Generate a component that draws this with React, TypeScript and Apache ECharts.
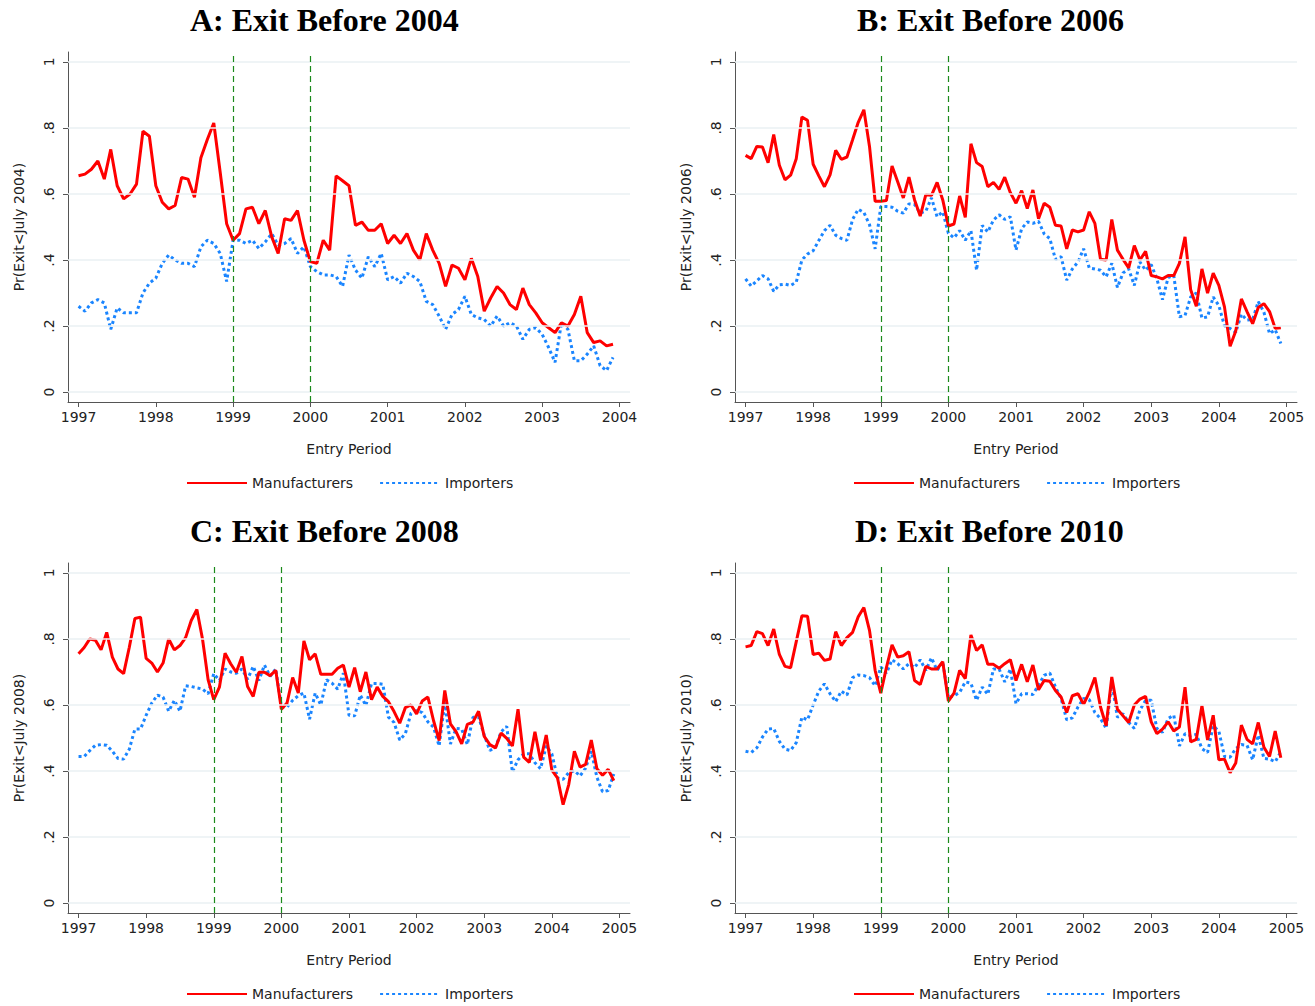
import { useEffect, useRef } from 'react';
import * as echarts from 'echarts';

// 每月数据，从 1997 年 1 月开始
const redA = [.655,.66,.675,.70,.645,.735,.625,.585,.60,.63,.79,.775,
  .625,.575,.555,.565,.65,.645,.59,.71,.765,.815,.665,.51,
  .46,.48,.555,.56,.51,.55,.47,.42,.525,.52,.55,.46,
  .395,.39,.46,.43,.655,.64,.625,.505,.515,.49,.49,.51,
  .45,.475,.45,.48,.43,.40,.48,.43,.39,.32,.385,.375,
  .34,.405,.35,.245,.285,.32,.30,.265,.25,.315,.265,.24,
  .21,.195,.18,.21,.20,.235,.29,.18,.15,.155,.14,.145];
const blueA = [.26,.245,.27,.28,.27,.19,.255,.24,.24,.24,.30,.33,
  .345,.39,.415,.40,.39,.39,.38,.44,.46,.45,.42,.335,
  .46,.46,.45,.46,.435,.455,.48,.445,.45,.465,.42,.44,
  .38,.365,.355,.355,.35,.32,.415,.37,.345,.41,.38,.42,
  .34,.35,.33,.36,.35,.335,.275,.265,.23,.19,.235,.25,
  .29,.235,.225,.22,.20,.23,.20,.21,.20,.16,.19,.195,
  .175,.135,.09,.21,.19,.095,.095,.115,.14,.08,.065,.105];
const redB = [.717,.707,.744,.742,.695,.78,.687,.643,.657,.707,.833,.823,
  .69,.655,.622,.658,.732,.705,.712,.764,.817,.855,.744,.578,
  .578,.58,.685,.637,.588,.651,.582,.533,.598,.596,.635,.582,
  .503,.509,.594,.529,.752,.695,.683,.622,.635,.614,.651,.604,
  .572,.61,.556,.612,.525,.572,.56,.505,.503,.434,.491,.485,
  .491,.546,.511,.402,.40,.523,.43,.402,.376,.444,.40,.426,
  .353,.349,.343,.353,.353,.39,.47,.31,.26,.373,.30,.36,
  .323,.258,.139,.185,.282,.244,.207,.256,.268,.244,.193,.195];
const blueB = [.343,.321,.337,.353,.343,.305,.325,.327,.323,.333,.40,.418,
  .428,.459,.489,.505,.475,.465,.46,.523,.554,.544,.507,.434,
  .562,.562,.56,.548,.542,.57,.568,.542,.548,.588,.531,.546,
  .481,.467,.489,.46,.489,.369,.505,.485,.521,.537,.523,.531,
  .43,.495,.515,.511,.517,.479,.465,.402,.41,.339,.373,.394,
  .434,.376,.373,.369,.349,.39,.317,.361,.373,.323,.394,.369,
  .386,.343,.28,.347,.353,.228,.232,.288,.30,.224,.228,.288,
  .262,.201,.193,.181,.236,.218,.22,.274,.242,.177,.189,.147];
const redC = [.755,.774,.80,.796,.767,.82,.745,.709,.695,.774,.862,.866,
  .741,.727,.70,.727,.80,.767,.78,.804,.856,.889,.80,.676,
  .616,.654,.757,.725,.699,.747,.656,.626,.699,.699,.689,.705,
  .587,.606,.683,.636,.794,.737,.755,.693,.693,.693,.711,.721,
  .654,.713,.64,.70,.616,.654,.626,.61,.58,.545,.592,.60,
  .573,.612,.624,.553,.492,.644,.543,.519,.482,.541,.548,.581,
  .505,.48,.47,.515,.499,.476,.587,.442,.426,.519,.432,.509,
  .403,.379,.298,.359,.46,.412,.42,.494,.407,.387,.405,.371];
const blueC = [.444,.444,.462,.478,.48,.478,.46,.438,.436,.466,.527,.527,
  .569,.606,.63,.624,.581,.614,.581,.658,.656,.652,.648,.634,
  .695,.674,.709,.70,.696,.709,.678,.717,.674,.721,.687,.709,
  .594,.594,.614,.628,.636,.557,.636,.60,.676,.666,.648,.696,
  .569,.567,.63,.598,.665,.665,.663,.563,.547,.494,.513,.575,
  .583,.577,.549,.533,.476,.608,.482,.529,.527,.48,.563,.563,
  .509,.462,.472,.519,.535,.397,.434,.452,.452,.425,.407,.476,
  .452,.379,.375,.395,.401,.385,.409,.46,.381,.337,.341,.391];
const redD = [.776,.78,.822,.816,.78,.83,.753,.717,.713,.792,.87,.869,
  .753,.757,.735,.739,.822,.78,.804,.82,.867,.895,.826,.705,
  .636,.713,.782,.745,.749,.761,.674,.662,.717,.709,.709,.731,
  .612,.636,.705,.68,.812,.765,.782,.723,.723,.711,.725,.737,
  .674,.723,.67,.721,.646,.674,.672,.644,.624,.577,.628,.634,
  .602,.638,.683,.594,.537,.685,.587,.567,.547,.60,.618,.626,
  .549,.513,.527,.549,.521,.533,.654,.488,.496,.598,.494,.569,
  .434,.436,.395,.424,.539,.496,.482,.547,.472,.444,.521,.44];
const blueD = [.46,.456,.47,.503,.527,.529,.49,.466,.462,.486,.563,.555,
  .60,.642,.664,.634,.61,.642,.63,.683,.691,.689,.683,.658,
  .715,.696,.737,.725,.709,.725,.713,.737,.705,.743,.705,.731,
  .622,.628,.638,.67,.666,.614,.654,.632,.709,.709,.67,.709,
  .604,.634,.634,.632,.66,.69,.697,.654,.62,.555,.561,.594,
  .62,.616,.577,.559,.529,.668,.563,.573,.547,.529,.585,.614,
  .614,.529,.517,.559,.569,.476,.513,.507,.511,.468,.456,.537,
  .521,.444,.442,.468,.48,.478,.434,.509,.438,.436,.428,.458];

const panels = [
  { title: 'A: Exit Before 2004', yName: 'Pr(Exit<July 2004)', red: redA, blue: blueA, years: [1997, 1998, 1999, 2000, 2001, 2002, 2003, 2004], left: 68, top: 52, titleLeft: 185 },
  { title: 'B: Exit Before 2006', yName: 'Pr(Exit<July 2006)', red: redB, blue: blueB, years: [1997, 1998, 1999, 2000, 2001, 2002, 2003, 2004, 2005], left: 735, top: 52, titleLeft: 852 },
  { title: 'C: Exit Before 2008', yName: 'Pr(Exit<July 2008)', red: redC, blue: blueC, years: [1997, 1998, 1999, 2000, 2001, 2002, 2003, 2004, 2005], left: 68, top: 563, titleLeft: 185 },
  { title: 'D: Exit Before 2010', yName: 'Pr(Exit<July 2010)', red: redD, blue: blueD, years: [1997, 1998, 1999, 2000, 2001, 2002, 2003, 2004, 2005], left: 735, top: 563, titleLeft: 850 },
];
const yTicks = [0, 0.2, 0.4, 0.6, 0.8, 1];
const cutYears = [1999, 2000];

const W = 562;
const H = 350;
const sans = 'DejaVu Sans';

export default function App() {
  const chartRef = useRef<HTMLDivElement>(null);

  useEffect(() => {
    if (!chartRef.current) return;
    const chart = echarts.init(chartRef.current, null, { renderer: 'svg' });

    const toXY = (arr: number[]) => arr.map((v, i) => [1997 + i / 12, v]);
    const fmtY = (v: any) => {
      const n = Number(v);
      if (n === 0) return '0';
      if (n === 1) return '1';
      return String(Math.round(n * 10) / 10).replace('0.', '.');
    };

    const grids: any[] = [];
    const xAxes: any[] = [];
    const yAxes: any[] = [];
    const series: any[] = [];
    const titles: any[] = [];
    const legends: any[] = [];

    panels.forEach((p, k) => {
      const first = p.years[0];
      const last = p.years[p.years.length - 1];
      const pad = (last - first) * 0.0195;
      grids.push({ left: p.left, top: p.top, width: W, height: H });
      titles.push({
        text: p.title, left: p.titleLeft, top: p.top - 53,
        textStyle: { fontFamily: 'Liberation Serif', fontWeight: 'bold', fontSize: 32, color: '#000' },
      });
      legends.push({
        data: ['Manufacturers', 'Importers'],
        left: p.left + 113, top: p.top + 419, itemWidth: 60, itemHeight: 10, itemGap: 26,
        itemStyle: { opacity: 0 },
        textStyle: { fontFamily: sans, fontSize: 14, color: '#222' },
      });
      xAxes.push({
        type: 'value', gridIndex: k, min: first - pad, max: last + pad,
        name: 'Entry Period', nameLocation: 'middle', nameGap: 40,
        nameTextStyle: { fontFamily: sans, fontSize: 14, color: '#222' },
        axisLine: { show: true, onZero: false, lineStyle: { color: '#555' } },
        axisTick: { show: true, length: 5, customValues: p.years, lineStyle: { color: '#555' } },
        axisLabel: { customValues: p.years, fontFamily: sans, fontSize: 14, color: '#222', margin: 8, formatter: (v: any) => String(Math.round(v)) },
        splitLine: { show: false },
      });
      yAxes.push({
        type: 'value', gridIndex: k, min: -0.03, max: 1.03,
        name: p.yName, nameLocation: 'middle', nameGap: 42, nameRotate: 90,
        nameTextStyle: { fontFamily: sans, fontSize: 14, color: '#222' },
        axisLine: { show: true, onZero: false, lineStyle: { color: '#555' } },
        axisTick: { show: true, length: 5, customValues: yTicks, lineStyle: { color: '#555' } },
        axisLabel: { customValues: yTicks, rotate: 90, fontFamily: sans, fontSize: 14, color: '#222', margin: 12, formatter: fmtY },
        splitLine: { show: false },
      });
      series.push({
        name: 'Manufacturers', type: 'line', xAxisIndex: k, yAxisIndex: k, symbol: 'none', z: 3,
        lineStyle: { color: '#ff0000', width: 3 }, itemStyle: { color: '#ff0000' },
        data: toXY(p.red),
        markLine: {
          silent: true, symbol: 'none', label: { show: false },
          lineStyle: { color: '#eaf0f3', width: 1.5, type: 'solid' },
          data: yTicks.map((t) => ({ yAxis: t })),
        },
      });
      series.push({
        name: 'Importers', type: 'line', xAxisIndex: k, yAxisIndex: k, symbol: 'none', z: 2,
        lineStyle: { color: '#1a85ff', width: 3, type: [3, 3] }, itemStyle: { color: '#1a85ff' },
        data: toXY(p.blue),
        markLine: {
          silent: true, symbol: 'none', label: { show: false },
          lineStyle: { color: '#1b8a1b', width: 1.2, type: [6, 4] },
          data: cutYears.map((t) => ({ xAxis: t })),
        },
      });
    });

    chart.setOption({
      animation: false,
      backgroundColor: '#fff',
      title: titles,
      legend: legends,
      grid: grids,
      xAxis: xAxes,
      yAxis: yAxes,
      series,
    });

    return () => chart.dispose();
  }, []);

  return <div ref={chartRef} style={{ position: 'fixed', left: 0, top: 0, width: 1315, height: 1006 }} />;
}
